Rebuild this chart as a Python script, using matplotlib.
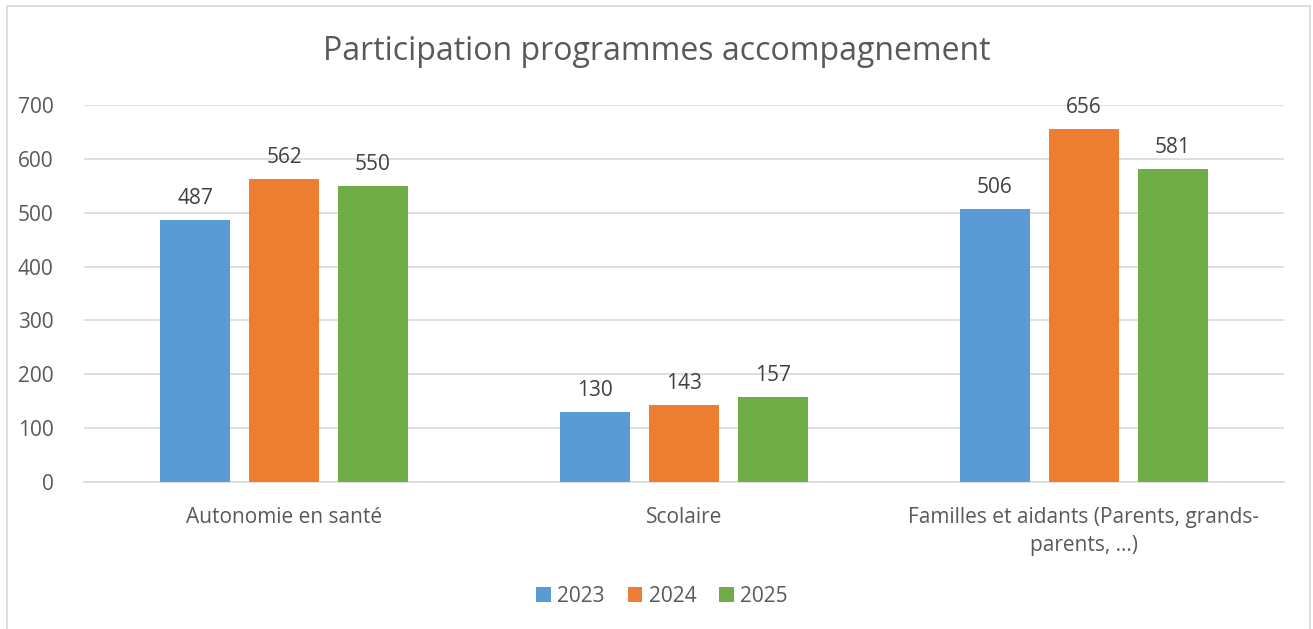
import numpy as np
import matplotlib.pyplot as plt
from matplotlib.patches import Rectangle

# data
categories = ["Autonomie en santé", "Scolaire", "Familles et aidants (Parents, grands-\nparents, …)"]
years = ["2023", "2024", "2025"]
v2023 = [487, 130, 506]
v2024 = [562, 143, 656]
v2025 = [550, 157, 581]
colors = ["#5B9BD5", "#ED7D31", "#70AD47"]
txt = "#595959"

plt.rcParams['font.family'] = ['Open Sans', 'DejaVu Sans']

fig = plt.figure(figsize=(13.13, 6.29), dpi=100)
ax = fig.add_axes([84/1313, 1-482/629, 1200/1313, 377/629])

# outer chart border
fig.patches.append(Rectangle((7/1313, -0.1), 1303/1313, 1.1-6/629, transform=fig.transFigure,
                             fill=False, edgecolor="#D9D9D9", linewidth=1.2))

x = np.arange(len(categories))
w = 0.175
step = 0.2225
for i, (vals, yr) in enumerate(zip([v2023, v2024, v2025], years)):
    bars = ax.bar(x + (i-1)*step, vals, width=w, color=colors[i], label=yr, zorder=3)
    for b, v in zip(bars, vals):
        ax.annotate(str(v), (b.get_x()+b.get_width()/2, v), xytext=(0, 8), textcoords="offset points",
                    ha="center", va="bottom", fontsize=15, color="#404040")

ax.set_xlim(-0.5, 2.5)
ax.set_ylim(0, 700)
ax.set_yticks(range(0, 701, 100))
ax.grid(axis="y", color="#D9D9D9", linewidth=1.2, zorder=0)
for s in ["top", "right", "left"]:
    ax.spines[s].set_visible(False)
ax.spines["bottom"].set_color("#D9D9D9")
ax.spines["bottom"].set_linewidth(1.2)
ax.tick_params(axis="y", length=0, pad=22, labelsize=15, labelcolor=txt)
ax.set_xticks(x)
ax.set_xticklabels(categories, linespacing=1.45)
ax.tick_params(axis="x", length=0, pad=18, labelsize=15, labelcolor=txt)

fig.text(0.5, 1-52/629, "Participation programmes accompagnement", ha="center", va="center",
         fontsize=23, color=txt)

fig.legend(loc="center", bbox_to_anchor=(662/1313, 1-596/629), ncol=3, frameon=False,
           fontsize=15, labelcolor=txt, handlelength=0.7, handleheight=0.7,
           handletextpad=0.3, columnspacing=1.1)

plt.savefig("out.png", dpi=100)
